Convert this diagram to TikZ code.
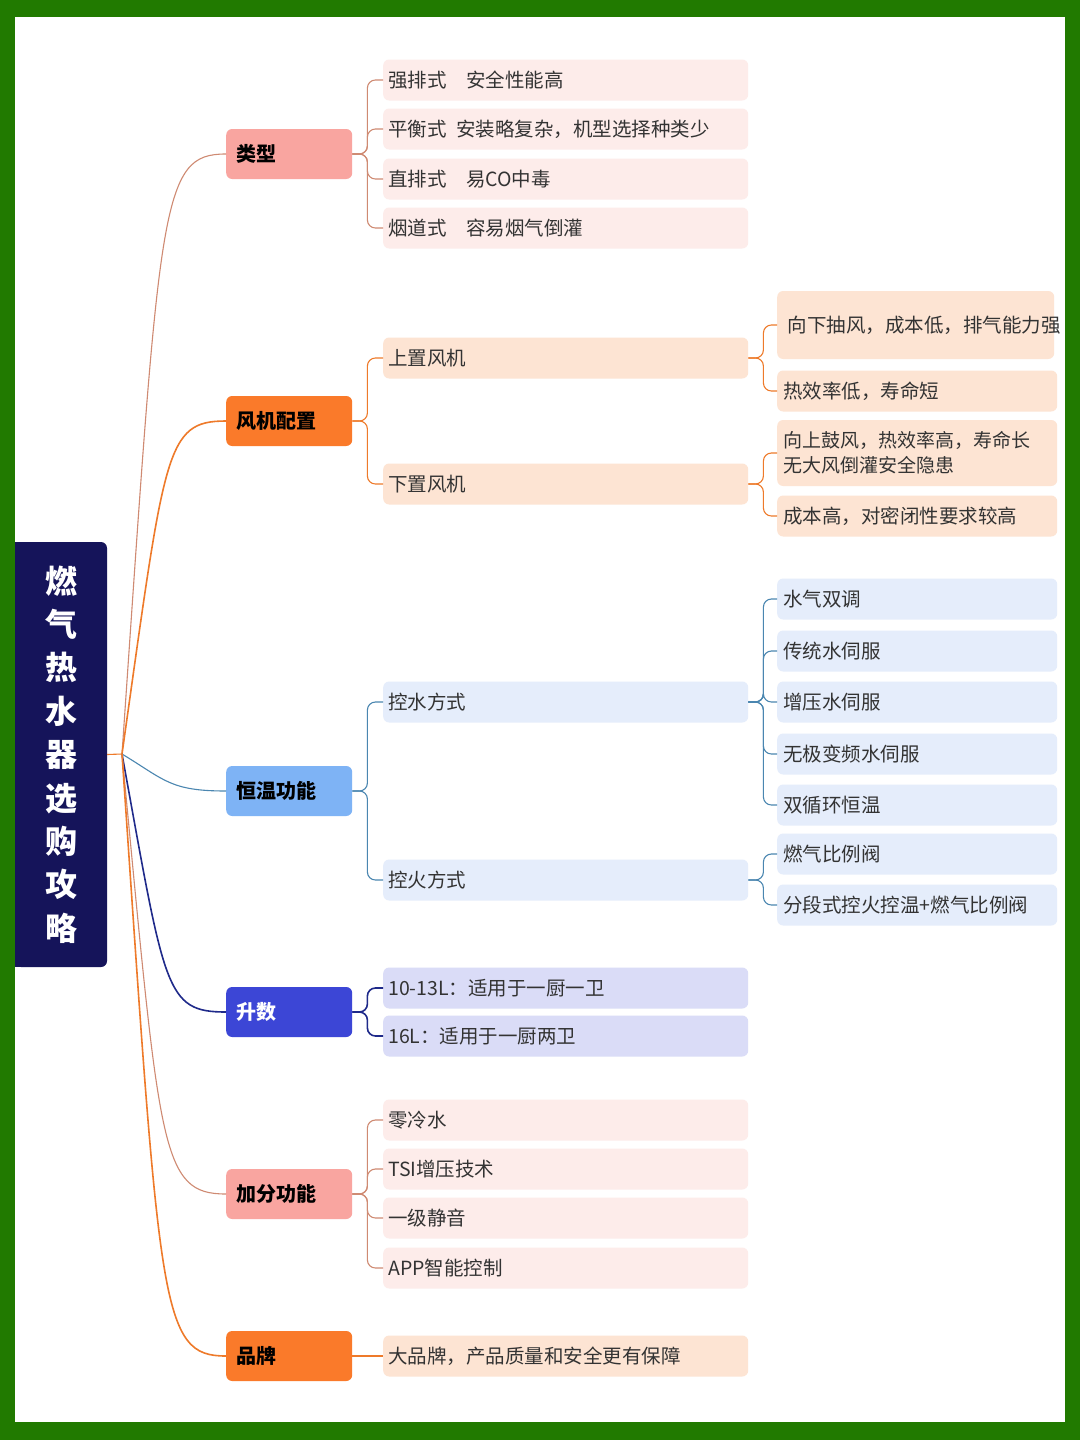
\documentclass[tikz,border=0pt]{standalone}
\usepackage{fontspec}
\setmainfont{Noto Sans CJK SC}
\begin{document}
\begin{tikzpicture}[x=1pt,y=-1pt,
 l1/.style={rounded corners=6pt,minimum width=126pt,minimum height=50pt,text width=106pt,align=left,anchor=west,inner xsep=10pt,font=\fontsize{20}{24}\selectfont\bfseries,text=black},
 l2/.style={rounded corners=6pt,minimum width=363pt,minimum height=41pt,text width=355pt,align=left,anchor=west,inner xsep=5pt,font=\fontsize{19.5}{26}\selectfont,text=black!80},
 l3/.style={rounded corners=6pt,minimum width=277pt,minimum height=41pt,text width=268pt,align=left,anchor=west,inner xsep=6pt,font=\fontsize{19.5}{26}\selectfont,text=black!80},
 br/.style={rounded corners=8pt,line width=1.1pt}]
\definecolor{gbord}{HTML}{217A00}
\definecolor{navy}{HTML}{15145A}
\definecolor{pk}{HTML}{F9A5A0}\definecolor{pkl}{HTML}{FDECEA}\definecolor{pkc}{HTML}{CF8A72}
\definecolor{og}{HTML}{FA7A2A}\definecolor{ogl}{HTML}{FDE4D3}\definecolor{ogc}{HTML}{EE7A2A}
\definecolor{bl}{HTML}{7EB3F5}\definecolor{bll}{HTML}{E5EDFB}\definecolor{blc}{HTML}{4A86B0}
\definecolor{in}{HTML}{3C46D6}\definecolor{inl}{HTML}{DADCF7}\definecolor{inc}{HTML}{1F2A8A}
\fill[gbord] (0,0) rectangle (1080,1440);
\fill[white] (15,17) rectangle (1065,1422);
\useasboundingbox (0,0) rectangle (1080,1440);
\node[fill=navy,rounded corners=6pt,minimum width=92pt,minimum height=425pt,text=white,align=center,font=\fontsize{32}{43.4}\selectfont\bfseries] (title) at (61,754.5) {燃\\气\\热\\水\\器\\选\\购\\攻\\略};
\fill[navy] (15,542) rectangle (30,967);
\coordinate (root) at (122,754);
\draw[ogc,line width=1.1pt] (title.east) -- (root);
% level 1
\node[l1,fill=pk] (a) at (226,154) {类型};
\node[l1,fill=og] (b) at (226,421) {风机配置};
\node[l1,fill=bl] (c) at (226,791) {恒温功能};
\node[l1,fill=in,text=white] (d) at (226,1012) {升数};
\node[l1,fill=pk] (e) at (226,1194) {加分功能};
\node[l1,fill=og] (f) at (226,1356) {品牌};
\draw[pkc,line width=1.1pt] (root) .. controls (160,200) and (160,154) .. (a.west);
\draw[ogc,line width=1.6pt] (root) .. controls (165,450) and (165,421) .. (b.west);
\draw[blc,line width=1.1pt] (root) .. controls (165,780) and (170,791) .. (c.west);
\draw[inc,line width=1.6pt] (root) .. controls (165,990) and (165,1012) .. (d.west);
\draw[pkc,line width=1.1pt] (root) .. controls (160,1150) and (160,1194) .. (e.west);
\draw[ogc,line width=1.6pt] (root) .. controls (160,1310) and (160,1356) .. (f.west);
% level 2
\node[l2,fill=pkl] (a1) at (383,80) {强排式\quad 安全性能高};
\node[l2,fill=pkl] (a2) at (383,129) {平衡式\enspace 安装略复杂，机型选择种类少};
\node[l2,fill=pkl] (a3) at (383,179) {直排式\quad 易CO中毒};
\node[l2,fill=pkl] (a4) at (383,228) {烟道式\quad 容易烟气倒灌};
\foreach \n in {a1,a2,a3,a4} \draw[br,pkc] (a.east) -- ++(15,0) |- (\n.west);
\node[l2,fill=ogl] (b1) at (383,358) {上置风机};
\node[l2,fill=ogl] (b2) at (383,484) {下置风机};
\foreach \n in {b1,b2} \draw[br,ogc] (b.east) -- ++(15,0) |- (\n.west);
\node[l2,fill=bll] (c1) at (383,702) {控水方式};
\node[l2,fill=bll] (c2) at (383,880) {控火方式};
\foreach \n in {c1,c2} \draw[br,blc] (c.east) -- ++(15,0) |- (\n.west);
\node[l2,fill=inl] (d1) at (383,988) {10-13L：适用于一厨一卫};
\node[l2,fill=inl] (d2) at (383,1036) {16L：适用于一厨两卫};
\foreach \n in {d1,d2} \draw[br,inc,line width=1.6pt] (d.east) -- ++(15,0) |- (\n.west);
\node[l2,fill=pkl] (e1) at (383,1120) {零冷水};
\node[l2,fill=pkl] (e2) at (383,1169) {TSI增压技术};
\node[l2,fill=pkl] (e3) at (383,1218) {一级静音};
\node[l2,fill=pkl] (e4) at (383,1268) {APP智能控制};
\foreach \n in {e1,e2,e3,e4} \draw[br,pkc] (e.east) -- ++(15,0) |- (\n.west);
\node[l2,fill=ogl] (f1) at (383,1356) {大品牌，产品质量和安全更有保障};
\draw[br,ogc,line width=1.6pt] (f.east) -- (f1.west);
% level 3
\node[l3,fill=ogl,minimum height=68pt,text width=262pt] (b11) at (777,325) {\,向下抽风，成本低，排气能力强};
\node[l3,fill=ogl] (b12) at (777,391) {热效率低，寿命短};
\foreach \n in {b11,b12} \draw[br,ogc] (b1.east) -- ++(15,0) |- (\n.west);
\node[l3,fill=ogl,minimum height=66pt,font=\fontsize{19}{25}\selectfont] (b21) at (777,453) {向上鼓风，热效率高，寿命长\\无大风倒灌安全隐患};
\node[l3,fill=ogl] (b22) at (777,516) {成本高，对密闭性要求较高};
\foreach \n in {b21,b22} \draw[br,ogc] (b2.east) -- ++(15,0) |- (\n.west);
\node[l3,fill=bll] (c11) at (777,599) {水气双调};
\node[l3,fill=bll] (c12) at (777,651) {传统水伺服};
\node[l3,fill=bll] (c13) at (777,702) {增压水伺服};
\node[l3,fill=bll] (c14) at (777,754) {无极变频水伺服};
\node[l3,fill=bll] (c15) at (777,805) {双循环恒温};
\foreach \n in {c11,c12,c13,c14,c15} \draw[br,blc] (c1.east) -- ++(15,0) |- (\n.west);
\node[l3,fill=bll] (c21) at (777,854) {燃气比例阀};
\node[l3,fill=bll] (c22) at (777,905) {分段式控火控温+燃气比例阀};
\foreach \n in {c21,c22} \draw[br,blc] (c2.east) -- ++(15,0) |- (\n.west);
\end{tikzpicture}
\end{document}
